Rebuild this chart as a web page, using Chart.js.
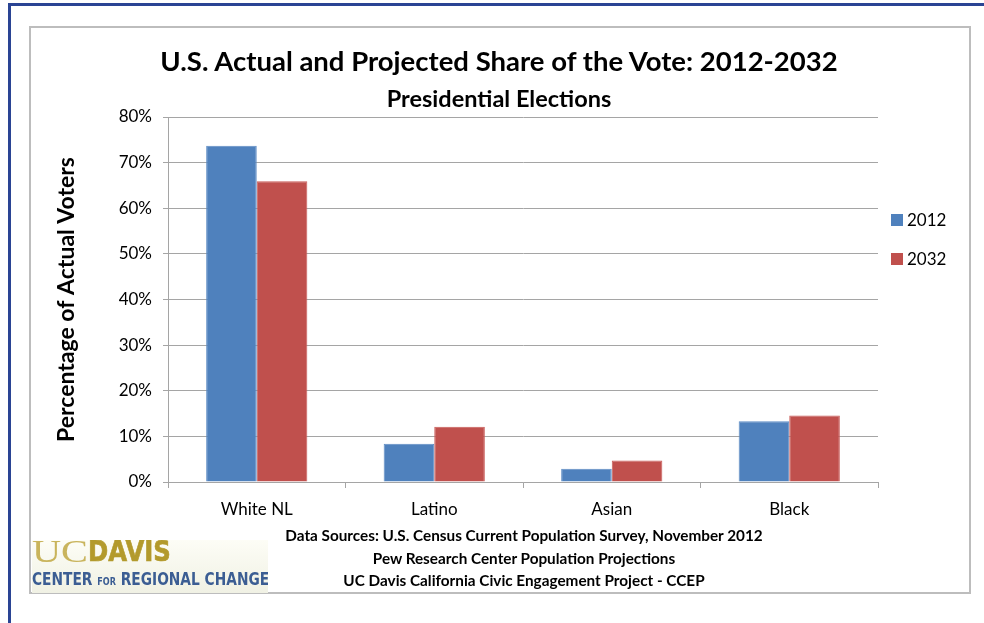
<!DOCTYPE html>
<html>
<head>
<meta charset="utf-8">
<title>U.S. Actual and Projected Share of the Vote: 2012-2032</title>
<script src="https://cdn.jsdelivr.net/npm/chart.js@4.4.0/dist/chart.umd.min.js"></script>
<style>
  html, body { margin: 0; padding: 0; background: #fff; }
  #page { position: relative; width: 984px; height: 623px; overflow: hidden; font-family: Lato, "Open Sans", sans-serif; color: #000; }
  #edgeTop { position: absolute; left: 8px; top: 3px; right: 0; height: 3px; background: #2a4494; }
  #edgeLeft { position: absolute; left: 8px; top: 3px; width: 3px; bottom: 0; background: #2a4494; }
  #frame { position: absolute; left: 29px; top: 26px; width: 938px; height: 564px; border: 2px solid #bdbdbd; }
  #chart { position: absolute; left: 0; top: 0; }
  .title { position: absolute; left: 30px; width: 938px; text-align: center; font-weight: bold; white-space: nowrap; }
  #mainTitle { top: 47px; font-size: 27.5px; line-height: 28px; }
  #subTitle { top: 86px; font-size: 23.5px; line-height: 24px; }
  #sources { position: absolute; left: 224px; width: 600px; top: 524px; text-align: center; font-weight: bold; font-size: 15.3px; line-height: 22.5px; white-space: nowrap; }
  #legend { position: absolute; left: 891px; top: 210px; font-size: 17px; }
  .legItem { position: relative; height: 39px; line-height: 20px; }
  .legItem span.box { position: absolute; left: 0; top: 4px; width: 12px; height: 12px; }
  .legItem span.lab { position: absolute; left: 16px; top: 0; }
  #logo { position: absolute; left: 32px; top: 540px; width: 236px; height: 53px; background: linear-gradient(#fdfdf6, #f0f1e4); filter: blur(0.6px); overflow: hidden; }
  #logoUC { position: absolute; left: 0; top: 0; height: 28px; width: 236px; }
  #logoUC .uc { position: absolute; left: 0; top: -5px; font-family: "Liberation Serif", serif; font-size: 32px; line-height: 32px; color: #c9b45c; transform: scaleX(1.26); transform-origin: left; }
  #logoUC .davis { position: absolute; left: 56px; top: -4px; font-family: "DejaVu Sans", sans-serif; font-weight: bold; font-size: 29px; line-height: 31px; color: #b39a2c; transform: scaleX(0.84); transform-origin: left; -webkit-text-stroke: 0.7px #b39a2c; }
  #logoCRC { position: absolute; left: 0; top: 30px; font-family: "DejaVu Sans", sans-serif; font-weight: bold; font-size: 17px; line-height: 18px; color: #3b5d93; white-space: nowrap; transform: scaleX(0.81); transform-origin: left; }
  #logoCRC .small { font-size: 10px; }
</style>
</head>
<body>
<div id="page">
  <div id="edgeTop"></div>
  <div id="edgeLeft"></div>
  <div id="frame"></div>
  <canvas id="chart" width="984" height="623"></canvas>
  <div id="mainTitle" class="title">U.S. Actual and Projected Share of the Vote: 2012-2032</div>
  <div id="subTitle" class="title">Presidential Elections</div>
  <div id="legend"></div>
  <div id="sources">
    Data Sources: U.S. Census Current Population Survey, November 2012<br>
    Pew Research Center Population Projections<br>
    UC Davis California Civic Engagement Project - CCEP
  </div>
  <div id="logo">
    <div id="logoUC"><span class="uc">UC</span><span class="davis">DAVIS</span></div>
    <div id="logoCRC">CENTER <span class="small">FOR</span> REGIONAL CHANGE</div>
  </div>
</div>
<script>
// groups on the x axis
const categories = ['White NL', 'Latino', 'Asian', 'Black'];
// share of actual voters, percent
const share2012 = [73.7, 8.4, 2.9, 13.3];
const share2032 = [65.9, 12.1, 4.7, 14.6];
const seriesNames = ['2012', '2032'];
const seriesColors = ['#4f81bd', '#c0504d'];
const seriesBorders = ['#5d8cc4', '#c95b58'];
// y axis range and step (percent)
const yMin = 0, yMax = 80, yStep = 10;

const gridGray = '#a5a5a5';
const tickFont = { family: 'Lato', size: 17 };

const chart = new Chart(document.getElementById('chart'), {
    type: 'bar',
    data: {
        labels: categories,
        datasets: [share2012, share2032].map((vals, i) => ({
            label: seriesNames[i],
            data: vals,
            backgroundColor: seriesColors[i],
            borderColor: seriesBorders[i],
            borderWidth: 1,
            categoryPercentage: 0.57,
            barPercentage: 1.0
        }))
    },
    options: {
        responsive: false,
        animation: false,
        events: [],
        layout: { padding: { left: 40, right: 106, top: 117, bottom: 101 } },
        plugins: {
            legend: { display: false },
            tooltip: { enabled: false }
        },
        scales: {
            x: {
                grid: { drawOnChartArea: false, drawTicks: true, tickLength: 6, color: gridGray, offset: true },
                border: { display: true, color: gridGray },
                ticks: { font: tickFont, color: '#000', padding: 11 },
                afterFit: function (scale) { scale.height = 40; }
            },
            y: {
                min: yMin,
                max: yMax,
                grid: { color: gridGray, tickLength: 5 },
                border: { display: true, color: gridGray },
                ticks: {
                    stepSize: yStep,
                    font: tickFont,
                    color: '#000',
                    padding: 11,
                    callback: v => v + '%'
                },
                title: {
                    display: true,
                    text: 'Percentage of Actual Voters',
                    font: { family: 'Lato', size: 23, weight: 'bold' },
                    color: '#000',
                    padding: { top: 13, bottom: 0 }
                },
                afterFit: function (scale) { scale.width = 128; }
            }
        }
    }
});

// legend on the right, built from the datasets
const legendBox = document.getElementById('legend');
chart.data.datasets.forEach(ds => {
    const item = document.createElement('div');
    item.className = 'legItem';
    item.innerHTML = '<span class="box" style="background:' + ds.backgroundColor + '"></span><span class="lab">' + ds.label + '</span>';
    legendBox.appendChild(item);
});
</script>
</body>
</html>
